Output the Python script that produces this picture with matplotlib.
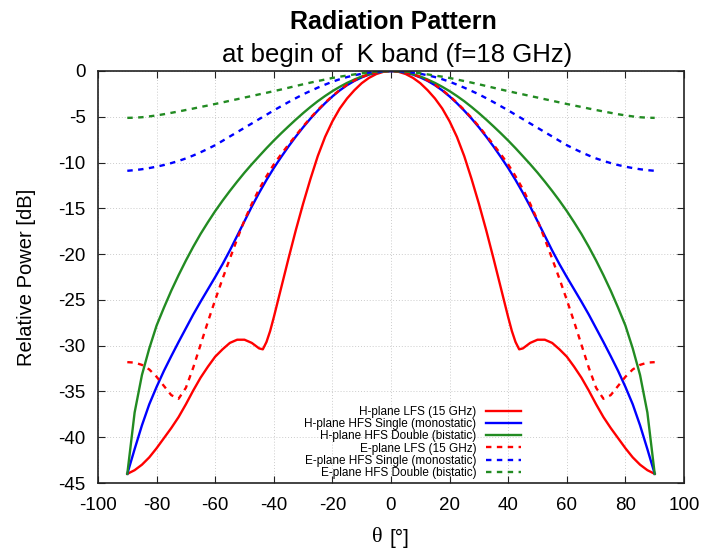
import numpy as np
import matplotlib
matplotlib.use("Agg")
import matplotlib.pyplot as plt

# ---- data (half patterns, theta = 0..90 deg, mirrored to -90..90) ----
theta_half = np.arange(0, 90.01, 2.5)

h_lfs_theta_half = [0, 2.5, 5, 7.5, 10, 12.5, 15, 17.5, 20, 22.5, 25, 27.5, 30, 32.5, 35,
                    37.5, 40, 41.25, 42.5, 43.75, 45, 46.25, 47.5, 50, 52.5, 55, 57.5, 60,
                    62.5, 65, 67.5, 70, 72.5, 75, 77.5, 80, 82.5, 85, 87.5, 90]
h_lfs_half = [0, -0.08, -0.33, -0.75, -1.33, -2.1, -3.0, -4.1, -5.5, -7.2, -9.3, -11.8,
              -14.5, -17.4, -20.5, -23.7, -26.9, -28.4, -29.6, -30.4, -30.3, -30.0, -29.7,
              -29.35, -29.35, -29.7, -30.4, -31.2, -32.3, -33.5, -34.9, -36.4, -37.8, -39.0,
              -40.1, -41.2, -42.2, -43.0, -43.6, -44.0]

h_hfs_single_half = [0, -0.04, -0.17, -0.39, -0.7, -1.08, -1.55, -2.12, -2.78, -3.52, -4.33,
                     -5.2, -6.15, -7.17, -8.25, -9.4, -10.6, -11.9, -13.3, -14.8, -16.4,
                     -18.0, -19.6, -21.1, -22.5, -23.85, -25.2, -26.6, -28.1, -29.6, -31.15,
                     -32.75, -34.5, -36.4, -38.7, -41.3, -44.0]

h_hfs_double_half = [0, -0.04, -0.15, -0.35, -0.6, -0.93, -1.3, -1.73, -2.2, -2.73, -3.3,
                     -3.93, -4.6, -5.31, -6.05, -6.81, -7.6, -8.43, -9.3, -10.18, -11.1,
                     -12.08, -13.1, -14.17, -15.3, -16.52, -17.8, -19.2, -20.7, -22.3, -24.0,
                     -25.85, -27.8, -30.3, -33.2, -37.3, -44.0]

e_lfs_half = [0, -0.04, -0.16, -0.37, -0.66, -1.03, -1.5, -2.08, -2.72, -3.46, -4.26,
              -5.12, -6.05, -7.05, -8.05, -9.1, -10.2, -11.5, -12.9, -14.5, -16.3, -18.35,
              -20.5, -22.7, -25.0, -27.4, -29.9, -32.4, -34.6, -35.8, -35.4, -34.4, -33.4,
              -32.6, -32.1, -31.85, -31.8]

e_hfs_single_half = [0, -0.02, -0.08, -0.17, -0.3, -0.47, -0.66, -0.9, -1.17, -1.49, -1.82,
                     -2.18, -2.55, -2.97, -3.4, -3.85, -4.3, -4.78, -5.25, -5.73, -6.2, -6.68,
                     -7.15, -7.63, -8.1, -8.5, -8.88, -9.23, -9.55, -9.82, -10.06, -10.27,
                     -10.45, -10.6, -10.73, -10.83, -10.9]

e_hfs_double_half = [0, -0.02, -0.06, -0.14, -0.25, -0.37, -0.5, -0.62, -0.76, -0.93, -1.1,
                     -1.27, -1.45, -1.64, -1.83, -2.02, -2.2, -2.38, -2.55, -2.73, -2.9, -3.08,
                     -3.25, -3.43, -3.6, -3.77, -3.93, -4.1, -4.26, -4.42, -4.57, -4.72, -4.85,
                     -4.96, -5.05, -5.1, -5.12]

labels = ["H-plane LFS (15 GHz)", "H-plane HFS Single (monostatic)",
          "H-plane HFS Double (bistatic)", "E-plane LFS (15 GHz)",
          "E-plane HFS Single (monostatic)", "E-plane HFS Double (bistatic)"]

xticks = list(range(-100, 101, 20))
yticks = list(range(-45, 1, 5))


def mirror(th, vals):
    th = np.asarray(th, float)
    v = np.asarray(vals, float)
    return np.concatenate([-th[::-1], th[1:]]), np.concatenate([v[::-1], v[1:]])


plt.rcParams['font.family'] = ['Liberation Sans', 'DejaVu Sans']
plt.rcParams['axes.unicode_minus'] = False

fig = plt.figure(figsize=(7.08, 5.5), dpi=100)
ax = fig.add_axes([98/708, 1-483/550, (684-98)/708, (483-71)/550])

red = '#ff0000'
blue = '#0000ff'
green = '#228b22'
lw = 1.7
dash = (2.3, 2.3)

series = [
    (h_lfs_theta_half, h_lfs_half, red, '-'),
    (theta_half, h_hfs_single_half, blue, '-'),
    (theta_half, h_hfs_double_half, green, '-'),
    (theta_half, e_lfs_half, red, '--'),
    (theta_half, e_hfs_single_half, blue, '--'),
    (theta_half, e_hfs_double_half, green, '--'),
]
for (th, v, c, ls), lab in zip(series, labels):
    x, y = mirror(th, v)
    if ls == '--':
        ax.plot(x, y, color=c, lw=lw, dashes=dash, label=lab)
    else:
        ax.plot(x, y, color=c, lw=lw, label=lab)

ax.set_xlim(-100, 100)
ax.set_ylim(-45, 0)
ax.set_xticks(xticks)
ax.set_yticks(yticks)
ax.tick_params(direction='in', top=True, right=True, length=5, width=0.8,
               labelsize=13.5, colors='#222222', labelcolor='black')
ax.tick_params(axis='x', pad=10)
ax.tick_params(axis='y', pad=9)
ax.grid(True, color='#cccccc', linestyle=(0, (1, 2)), linewidth=0.7)
for s in ax.spines.values():
    s.set_linewidth(1.2)
    s.set_color('#222222')

ax.set_ylabel('Relative Power [dB]', fontsize=14.5)
ax.yaxis.set_label_coords(-0.106, 0.5)

fig.text(377/708, 1-538/550, 'θ', family=['Liberation Serif'], fontsize=16,
         ha='center', va='center')
fig.text(399/708, 1-538/550, '[°]', fontsize=15, ha='center', va='center')

fig.text(393/708, 1-22/550, 'Radiation Pattern', fontsize=18, fontweight='bold',
         ha='center', va='center')
fig.text(397/708, 1-55/550, 'at begin of  K band (f=18 GHz)', fontsize=18.5,
         ha='center', va='center')

leg = ax.legend(loc='lower right', bbox_to_anchor=(521/708, 1-479/550),
                bbox_transform=fig.transFigure, frameon=False, fontsize=8.5,
                markerfirst=False, handlelength=3.0, handletextpad=0.8,
                labelspacing=0.02, borderpad=0, borderaxespad=0)
for t in leg.get_texts():
    t.set_ha('right')
leg._legend_box.align = 'right'

fig.savefig('out.png', dpi=100)
